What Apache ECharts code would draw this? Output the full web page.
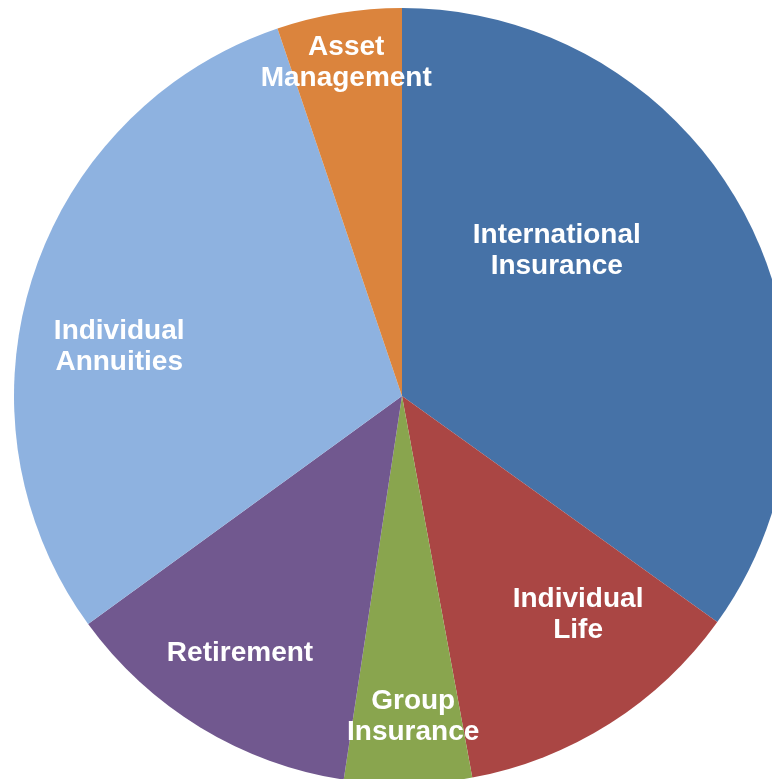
<!DOCTYPE html>
<html>
<head>
<meta charset="utf-8">
<script src="https://cdn.jsdelivr.net/npm/echarts@6/dist/echarts.min.js"></script>
<style>
  html, body { margin: 0; padding: 0; background: #fff; }
  #chart { width: 772px; height: 779px; }
</style>
</head>
<body>
<div id="chart"></div>
<script>
// segments, clockwise from 12 o'clock
const segments = ["International\nInsurance", "Individual\nLife", "Group\nInsurance", "Retirement", "Individual\nAnnuities", "Asset\nManagement"];
const shares = [34.9, 12.2, 5.3, 12.6, 29.8, 5.2];
const colors = ["#4672a7", "#aa4644", "#89a54e", "#71588f", "#8eb2e0", "#db843d"];

// label placement (angle in deg clockwise from top, distance in px from centre)
const labelAngle = [46.9, 141.2, 178, 212.2, 279.8, 350.5];
const labelDist = [212, 281, 321, 304, 287, 338];

const cx = 402, cy = 396, r = 388;

const myChart = echarts.init(document.getElementById("chart"));

const option = {
  animation: false,
  color: colors,
  series: [
    {
      type: "pie",
      center: [cx, cy],
      radius: [0, r],
      startAngle: 90,
      clockwise: true,
      avoidLabelOverlap: false,
      itemStyle: { borderWidth: 0 },
      label: {
        show: true,
        position: "inside",
        formatter: "{b}",
        color: "#fff",
        fontFamily: "Liberation Sans",
        fontWeight: "bold",
        fontSize: 28,
        lineHeight: 31,
        align: "center",
        verticalAlign: "middle",
      },
      labelLine: { show: false },
      labelLayout: function (params) {
        const i = params.dataIndex;
        const a = (labelAngle[i] * Math.PI) / 180;
        return {
          x: cx + labelDist[i] * Math.sin(a),
          y: cy - labelDist[i] * Math.cos(a),
        };
      },
      data: segments.map(function (name, i) {
        return { name: name, value: shares[i] };
      }),
    },
  ],
};

myChart.setOption(option);
</script>
</body>
</html>
